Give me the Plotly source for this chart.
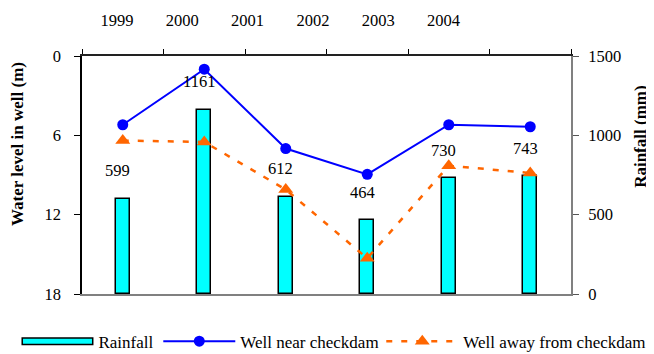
import plotly.graph_objects as go

years = ["1999", "2000", "2001", "2002", "2003", "2004"]
rainfall = [599, 1161, 612, 464, 730, 743]
well_near = [5.2, 1.0, 7.0, 8.95, 5.2, 5.35]
well_away = [6.4, 6.5, 10.1, 15.3, 8.3, 8.85]
left_ticks = [0, 6, 12, 18]
right_ticks = [0, 500, 1000, 1500]

FONT = "Liberation Serif, Times New Roman, serif"
CYAN = "#00FFFF"

fig = go.Figure()
fig.add_trace(go.Bar(
    x=years, y=rainfall, name="Rainfall", width=0.172, showlegend=False,
    marker=dict(color=CYAN, line=dict(color="black", width=1.5)),
    xaxis="x", yaxis="y",
))
fig.add_trace(go.Scatter(
    x=years, y=well_near, name="Well near checkdam", mode="lines+markers",
    line=dict(color="#0000FF", width=2),
    marker=dict(symbol="circle", size=11, color="#0000FF"),
    xaxis="x", yaxis="y2", legend="legend2",
))
fig.add_trace(go.Scatter(
    x=years, y=well_away, name="Well away from checkdam", mode="lines+markers",
    line=dict(color="#FF6600", width=2.5, dash="6px,9px"),
    marker=dict(symbol="triangle-up", size=13, color="#FF6600"),
    xaxis="x", yaxis="y2", legend="legend3",
))
# legend key for the rainfall bars: a long outlined box (black outer stroke + cyan inner stroke)
fig.add_trace(go.Scatter(x=[None], y=[None], name="Rainfall", mode="lines",
                         line=dict(color="black", width=8), legend="legend",
                         xaxis="x", yaxis="y", hoverinfo="skip"))
fig.add_trace(go.Scatter(x=[None], y=[None], name=" ", mode="lines",
                         line=dict(color=CYAN, width=5), legend="legend4",
                         xaxis="x", yaxis="y", hoverinfo="skip"))
# empty helper traces so the two top axes (tick marks / year labels) get drawn
fig.add_trace(go.Scatter(x=[None], y=[None], xaxis="x2", yaxis="y", showlegend=False, hoverinfo="skip"))
fig.add_trace(go.Scatter(x=[None], y=[None], xaxis="x3", yaxis="y", showlegend=False, hoverinfo="skip"))

annotations = []
for i, r in enumerate(rainfall):
    annotations.append(dict(
        x=i, y=r, xref="x", yref="y", text=str(r), showarrow=False,
        xanchor="center", yanchor="middle",
        yshift=28, xshift=-5, font=dict(family=FONT, size=16.5, color="black"),
    ))
annotations.append(dict(
    x=-0.133, y=0.63, xref="paper", yref="paper", text="<b>Water level in well (m)</b>",
    xanchor="center", yanchor="middle",
    textangle=-90, showarrow=False, font=dict(family=FONT, size=17, color="black"),
))
annotations.append(dict(
    x=1.143, y=0.66, xref="paper", yref="paper", text="<b>Rainfall (mm)</b>",
    xanchor="center", yanchor="middle",
    textangle=-90, showarrow=False, font=dict(family=FONT, size=17, color="black"),
))

leg_common = dict(orientation="h", xanchor="left", y=-0.2, yanchor="middle",
                  font=dict(family=FONT, size=17), itemwidth=72,
                  bgcolor="rgba(0,0,0,0)")

# the page body adds an 8px offset, so the figure is 8px smaller than the window
fig.update_layout(
    width=646, height=346,
    margin=dict(l=74, r=83, t=48, b=60, autoexpand=False),
    paper_bgcolor="white", plot_bgcolor="white",
    font=dict(family=FONT, size=16.5, color="black"),
    showlegend=True,
    legend=dict(x=-0.134, **leg_common),
    legend2=dict(x=0.156, **leg_common),
    legend3=dict(x=0.612, **leg_common),
    legend4=dict(orientation="h", xanchor="left", y=-0.2, yanchor="middle",
                 x=-0.134 + 1.5 / 489, font=dict(family=FONT, size=17), itemwidth=69,
                 bgcolor="rgba(0,0,0,0)"),
    bargap=0,
    xaxis=dict(type="category", categoryorder="array", categoryarray=years,
               range=[-0.5, 5.5], showline=True, linecolor="#808080", linewidth=2,
               ticks="", showticklabels=False, showgrid=False, zeroline=False),
    xaxis2=dict(overlaying="x", side="top", anchor="y", range=[0, 6],
                tickvals=list(range(7)), ticks="outside", ticklen=5, tickcolor="black",
                showline=True, linecolor="#222222", linewidth=1.5,
                showticklabels=False, showgrid=False, zeroline=False),
    xaxis3=dict(overlaying="x", side="top", anchor="y", range=[-0.536, 6.952],
                tickvals=list(range(len(years))), ticktext=years, ticks="",
                showline=False, showgrid=False, zeroline=False,
                ticklabelstandoff=26, tickfont=dict(family=FONT, size=16.5)),
    yaxis=dict(side="right", range=[0, 1500], tickvals=right_ticks,
               ticks="outside", ticklen=6, tickcolor="#555555",
               showline=True, linecolor="#808080", linewidth=2,
               showgrid=False, zeroline=False, ticklabelstandoff=6),
    yaxis2=dict(overlaying="y", side="left", range=[18, 0], tickvals=left_ticks,
                ticks="outside", ticklen=6, tickcolor="black",
                showline=True, linecolor="black", linewidth=1.5,
                showgrid=False, zeroline=False, ticklabelstandoff=10),
    annotations=annotations,
)
fig.write_html("out.html")
